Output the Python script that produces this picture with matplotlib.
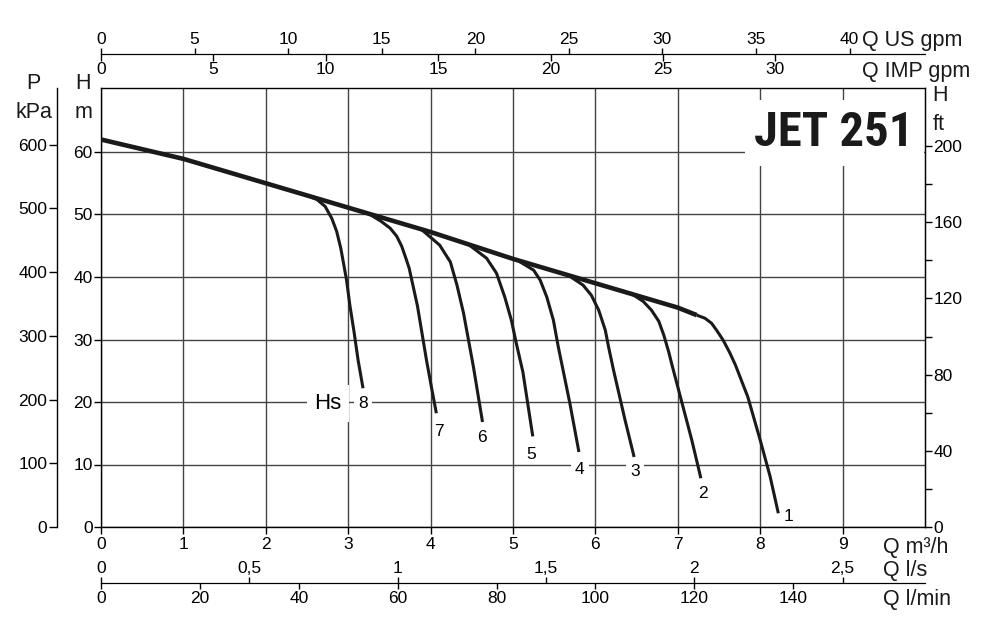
import matplotlib.pyplot as plt
from matplotlib.ticker import FixedLocator

plt.rcParams['font.family'] = ['Liberation Sans', 'DejaVu Sans']

# Q in m3/h, H in m
main_q = [0, 1, 2, 3, 4, 5, 6, 7, 7.23]
main_h = [62.0, 58.9, 55.0, 51.1, 47.2, 42.9, 39.0, 35.1, 33.9]

c1_q = [7.23, 7.33, 7.41, 7.47, 7.55, 7.63, 7.70, 7.85, 8.00, 8.12, 8.22]
c1_h = [33.9, 33.4, 32.6, 31.5, 29.9, 27.9, 25.9, 20.8, 13.9, 8.1, 2.2]
c2_q = [6.44, 6.58, 6.68, 6.77, 6.83, 6.89, 6.93, 7.05, 7.17, 7.28]
c2_h = [37.3, 36.1, 34.7, 32.9, 30.7, 28.0, 25.9, 19.9, 13.9, 7.8]
c3_q = [5.68, 5.85, 5.95, 6.04, 6.12, 6.16, 6.22, 6.36, 6.47]
c3_h = [40.2, 38.7, 37.1, 34.7, 31.5, 28.8, 25.1, 17.1, 11.2]
c4_q = [5.05, 5.25, 5.33, 5.41, 5.49, 5.55, 5.69, 5.80]
c4_h = [42.7, 41.1, 39.5, 36.8, 33.1, 28.8, 19.8, 12.0]
c5_q = [4.45, 4.68, 4.80, 4.90, 4.98, 5.04, 5.12, 5.24]
c5_h = [45.3, 43.0, 40.6, 36.8, 33.1, 29.4, 24.8, 14.5]
c6_q = [3.88, 4.11, 4.24, 4.32, 4.40, 4.52, 4.63]
c6_h = [47.7, 45.1, 42.4, 38.7, 34.2, 25.6, 16.8]
c7_q = [3.24, 3.40, 3.51, 3.59, 3.65, 3.70, 3.74, 3.84, 3.95, 4.01, 4.07]
c7_h = [50.2, 48.9, 47.8, 46.5, 44.9, 43.0, 41.4, 35.4, 26.7, 22.4, 18.2]
c8_q = [2.48, 2.62, 2.72, 2.80, 2.86, 2.91, 2.95, 2.98, 3.02, 3.07, 3.12, 3.18]
c8_h = [53.2, 52.4, 51.3, 49.4, 47.3, 44.6, 41.7, 39.5, 35.5, 31.3, 26.7, 22.2]

curve_names = ['1', '2', '3', '4', '5', '6', '7', '8']

q_ticks = list(range(10))
h_ticks = list(range(0, 61, 10))
kpa_ticks = list(range(0, 601, 100))
ft_ticks = list(range(0, 201, 40))
ft_minor = list(range(20, 200, 40))
us_ticks = list(range(0, 41, 5))
imp_ticks = list(range(0, 31, 5))
ls_ticks = [0, 0.5, 1, 1.5, 2, 2.5]
ls_labels = ['0', '0,5', '1', '1,5', '2', '2,5']
lmin_ticks = list(range(0, 141, 20))

W, H = 991, 637
fig = plt.figure(figsize=(W / 100, H / 100), dpi=100)
ax = fig.add_axes([101 / W, 110 / H, 824 / W, 439 / H])
ax.set_xlim(0, 10)
ax.set_ylim(0, 439 / 6.25)

grid_c = '#444444'
ink = '#1a1a1a'
ax.set_xticks(q_ticks)
ax.set_yticks(h_ticks)
ax.tick_params(direction='out', length=5, width=1, labelsize=12.5, pad=2)
ax.tick_params(axis='y', pad=1)
ax.grid(True, color=grid_c, lw=1.0)
ax.set_axisbelow(True)
for s in ax.spines.values():
    s.set_linewidth(1.0)

ax.plot(main_q, main_h, color=ink, lw=3.3, solid_capstyle='butt', zorder=4)
curves = [(c1_q, c1_h), (c2_q, c2_h), (c3_q, c3_h), (c4_q, c4_h),
          (c5_q, c5_h), (c6_q, c6_h), (c7_q, c7_h), (c8_q, c8_h)]
for cq, ch in curves:
    ax.plot(cq, ch, color=ink, lw=2.2, solid_capstyle='butt',
            solid_joinstyle='round', zorder=3)

# curve numbers below the curve ends (offset in pixels); only some sit on grid lines
offsets = [(10, -3), (2, -15), (1, -14), (1, -17), (-2, -18), (-1, -16), (3, -18), (0, -15)]
boxed = ['3', '4', '8']
box = dict(boxstyle='square,pad=0.25', fc='white', ec='none')
for name, (cq, ch), off in zip(curve_names, curves, offsets):
    ax.annotate(name, (cq[-1], ch[-1]), xytext=off, textcoords='offset pixels',
                ha='center', va='center', fontsize=12.5, zorder=2,
                bbox=box if name in boxed else None)
ax.annotate('Hs', (c8_q[-1], c8_h[-1]), xytext=(-35, -15), textcoords='offset pixels',
            ha='center', va='center', fontsize=16, zorder=2,
            bbox=dict(boxstyle='square,pad=0.35', fc='white', ec='none'))

ax.text(0.8896, 0.897, 'JET 251', transform=ax.transAxes, ha='center', va='center',
        family=['Roboto Condensed', 'Liberation Sans'], weight='bold',
        fontsize=35, color=ink, zorder=2,
        bbox=dict(boxstyle='square,pad=0.2', fc='white', ec='none'))

# pressure scale on the left
kpa = ax.secondary_yaxis(-44 / 824, functions=(lambda h: h * 9.81, lambda p: p / 9.81))
kpa.set_yticks(kpa_ticks)
kpa.tick_params(direction='out', length=6, width=1, labelsize=12.5, pad=1)
kpa.spines['left'].set_linewidth(1.0)

# head in feet on the right
ft = ax.secondary_yaxis('right', functions=(lambda h: h * 3.28084, lambda f: f / 3.28084))
ft.set_yticks(ft_ticks)
ft.yaxis.set_minor_locator(FixedLocator(ft_minor))
ft.tick_params(which='both', direction='out', length=5, width=1, labelsize=12.5, pad=1)

# flow scales on top
top_loc = 1 + 34 / 439
us = ax.secondary_xaxis(top_loc, functions=(lambda q: q * 4.40287, lambda g: g / 4.40287))
us.set_xticks(us_ticks)
us.tick_params(direction='out', length=4, width=1, labelsize=12.5, pad=1)
imp = ax.secondary_xaxis(top_loc, functions=(lambda q: q * 3.66615, lambda g: g / 3.66615))
imp.set_alignment('bottom')
imp.set_xticks(imp_ticks)
imp.tick_params(direction='out', length=5, width=1, labelsize=12.5, pad=1)

# flow scales at the bottom
bot_loc = -56 / 439
ls = ax.secondary_xaxis(bot_loc, functions=(lambda q: q / 3.6, lambda v: v * 3.6))
ls.set_alignment('top')
ls.set_xticks(ls_ticks, ls_labels)
ls.tick_params(direction='out', length=4, width=1, labelsize=12.5, pad=1)
lmin = ax.secondary_xaxis(bot_loc, functions=(lambda q: q / 0.06, lambda v: v * 0.06))
lmin.set_xticks(lmin_ticks)
lmin.tick_params(direction='out', length=4, width=1, labelsize=12.5, pad=2)


def ftxt(x, y, s, ha='left'):
    fig.text(x / W, 1 - y / H, s, ha=ha, va='baseline', fontsize=15.5, color=ink)


ftxt(33, 89, 'P', 'center')
ftxt(34, 118, 'kPa', 'center')
ftxt(83, 89, 'H', 'center')
ftxt(83, 118, 'm', 'center')
ftxt(932, 101, 'H')
ftxt(933, 130, 'ft')
ftxt(862, 46, 'Q US gpm')
ftxt(862, 77, 'Q IMP gpm')
ftxt(883, 553, 'Q m³/h')
ftxt(883, 576, 'Q l/s')
ftxt(883, 605, 'Q l/min')

fig.savefig('out.png', dpi=100)
